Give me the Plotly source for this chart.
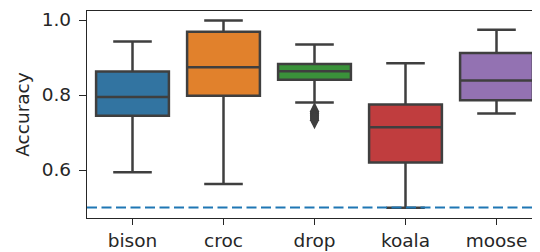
import plotly.graph_objects as go

categories = ["bison", "croc", "drop", "koala", "moose"]
lower_whisker = [0.594, 0.563, 0.780, 0.499, 0.751]
q1 = [0.745, 0.798, 0.8405, 0.620, 0.786]
median = [0.795, 0.874, 0.8635, 0.714, 0.839]
q3 = [0.863, 0.969, 0.883, 0.775, 0.912]
upper_whisker = [0.943, 0.999, 0.935, 0.885, 0.974]
colors = ["#3274a1", "#e1812c", "#3a923a", "#c03d3e", "#9372b2"]

drop_outliers = [0.757, 0.754, 0.751, 0.748, 0.745, 0.742, 0.739, 0.736, 0.733]
chance_level = 0.5

y_ticks = [0.6, 0.8, 1.0]
y_range = [0.472, 1.024]
x_range = [-0.5, 4.478]

edge = "#3f3f3f"
ink = "#262626"
font_family = "DejaVu Sans"

fig = go.Figure()
for cat, lw, a, m, b, uw, col in zip(categories, lower_whisker, q1, median, q3, upper_whisker, colors):
    fig.add_trace(go.Box(
        x=[cat], q1=[a], median=[m], q3=[b], lowerfence=[lw], upperfence=[uw],
        fillcolor=col, line=dict(color=edge, width=2.5), width=0.8, whiskerwidth=0.53,
        boxpoints=False, showlegend=False, hoverinfo="skip",
    ))

fig.add_trace(go.Scatter(
    x=["drop"] * len(drop_outliers), y=drop_outliers, mode="markers",
    marker=dict(symbol="diamond-tall", size=13, color=edge, line=dict(width=0)),
    showlegend=False, hoverinfo="skip",
))

fig.add_shape(type="line", xref="paper", x0=0, x1=1, yref="y", y0=chance_level, y1=chance_level,
              line=dict(color="#1f77b4", width=2, dash="10px,4.5px"))

# page body has an 8px margin, so the figure is sized/offset to compensate
fig.update_layout(
    width=532, height=244,
    margin=dict(l=79, r=0, t=3, b=34),
    paper_bgcolor="white", plot_bgcolor="white",
    font=dict(family=font_family, size=18.5, color=ink),
    boxmode="overlay",
)
fig.update_xaxes(
    type="category", categoryorder="array", categoryarray=categories, range=x_range,
    showline=True, linecolor=ink, linewidth=1.3, mirror=True,
    ticks="outside", ticklen=6, tickwidth=1.3, tickcolor=ink,
    showgrid=False, zeroline=False,
    tickfont=dict(family=font_family, size=18.5, color=ink),
)
fig.update_yaxes(
    range=y_range, tickvals=y_ticks, tickformat=".1f",
    showline=True, linecolor=ink, linewidth=1.3, mirror=False,
    ticks="outside", ticklen=7, tickwidth=1.3, tickcolor=ink, ticklabelstandoff=4,
    showgrid=False, zeroline=False,
    tickfont=dict(family=font_family, size=18.5, color=ink),
    title=dict(text="Accuracy", font=dict(family=font_family, size=18.5, color=ink), standoff=7),
)

fig.write_html("out.html")
